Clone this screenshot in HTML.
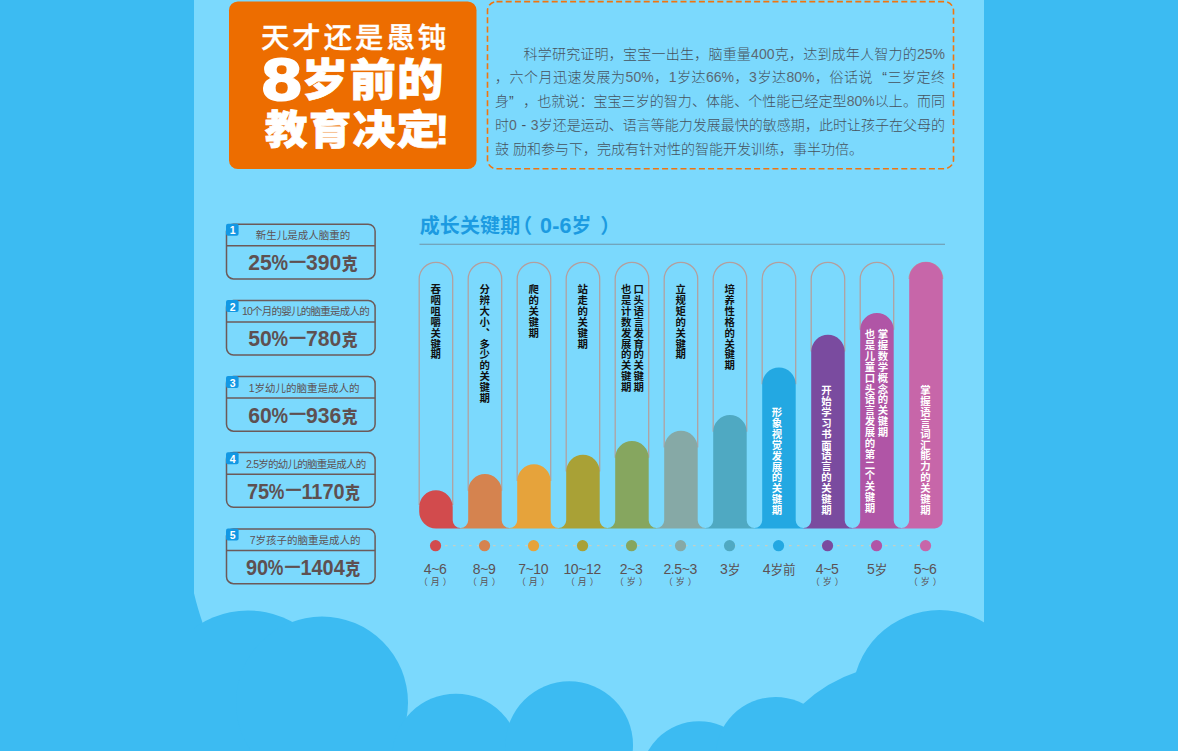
<!DOCTYPE html>
<html lang="zh-CN">
<head>
<meta charset="utf-8">
<title>天才还是愚钝 8岁前的教育决定</title>
<style>
html,body{margin:0;padding:0;}
body{width:1178px;height:751px;overflow:hidden;position:relative;background:#3cbbf2;font-family:"Liberation Sans","Noto Sans CJK SC",sans-serif;}
.bg{position:absolute;left:0;top:0;display:block;}
.abs{position:absolute;white-space:nowrap;margin:0;}
.t1{left:261px;top:16.7px;font-size:28.3px;font-weight:500;color:#fff;letter-spacing:3.05px;-webkit-text-stroke:0.35px #fff;line-height:42px;}
.n8{left:261.9px;top:45.3px;font-size:59px;font-weight:700;color:#fff;line-height:70px;transform:scaleX(1.2);transform-origin:0 50%;-webkit-text-stroke:2.2px #fff;}
.t2{left:301.5px;top:51.3px;font-size:44px;font-weight:900;color:#fff;line-height:60px;letter-spacing:1px;-webkit-text-stroke:0.8px #fff;transform:scaleX(1.055);transform-origin:0 50%;}
.t3{left:264.5px;top:99.7px;font-size:40px;font-weight:900;color:#fff;line-height:60px;letter-spacing:1.4px;-webkit-text-stroke:0.8px #fff;transform:scaleX(1.06);transform-origin:0 50%;}
.para{left:495px;width:450px;font-size:14px;font-weight:300;color:#46525e;line-height:24px;height:24px;text-align:justify;text-align-last:justify;}
.para i{font-style:normal;color:#5c6873;}
.para b{font-weight:inherit;display:inline-block;}
.para .ql{width:14px;text-align:right;text-align-last:right;}
.para .qr{width:14px;text-align:left;text-align-last:left;}
.para .hy{width:14px;text-align:center;text-align-last:center;}
.para.last{text-align-last:left;text-align:left;}
.c1{width:180px;text-align:center;font-size:10.5px;color:#5d5254;line-height:14px;}
.c2{left:228px;width:150px;text-align:center;font-size:22px;font-weight:700;color:#5e5051;line-height:26px;}
.c2 span.w{display:inline-block;transform:scaleX(0.96);}
.c2 .pc{display:inline-block;transform:scaleX(0.88);margin:0 -1.2px;}
.c2 .ke{font-size:16.5px;margin-left:0.5px;font-weight:900;}
.c2 .da{display:inline-block;font-size:17px;position:relative;top:-2.2px;transform:scaleX(1.3);margin:0 0 0 1.5px;-webkit-text-stroke:0.5px #5e5051;}
.bd{width:12.6px;text-align:center;color:#fff;font-weight:700;font-size:10.5px;line-height:12px;}
.ct{left:419.7px;top:211px;font-size:20px;font-weight:700;color:#1c9be1;line-height:30px;letter-spacing:0.12px;}
.v{writing-mode:vertical-rl;font-size:10.4px;font-weight:700;line-height:13px;letter-spacing:0.47px;color:#111;}
.v.w{color:#fff;}
.lb{width:60px;text-align:center;font-size:14px;color:#5d5254;line-height:16px;letter-spacing:-0.4px;}
.lb s{text-decoration:none;font-size:12.6px;letter-spacing:-0.2px;margin-left:0.5px;}
.ls{width:60px;text-align:center;font-size:9px;color:#5d5254;line-height:12px;letter-spacing:3px;text-indent:3px;}
</style>
</head>
<body>

<svg class="bg" width="1178" height="751" viewBox="0 0 1178 751">
<rect x="194" y="0" width="790" height="751" fill="#7bd9fd"/>
<g fill="#3cbbf2"><path d="M193,590 L194.2,594 Q197.2,607 202.8,623.5 L204,751 L193,751 Z"/><circle cx="248" cy="702.5" r="92"/><circle cx="322" cy="702.5" r="86"/><circle cx="456" cy="757.7" r="64"/><circle cx="569.3" cy="745" r="63.7"/><circle cx="699" cy="780" r="58.7"/><circle cx="775.5" cy="757" r="60"/><circle cx="939.6" cy="697.3" r="87.3"/><path d="M803,704 A 150 150 0 0 1 858,671.5 L 885,700 L885,751 L803,751 Z"/></g>
<rect x="984" y="0" width="194" height="751" fill="#3cbbf2"/>
<rect x="0" y="0" width="194" height="751" fill="#3cbbf2"/>
<rect x="229" y="1.5" width="247.5" height="167.5" rx="8.8" fill="#ed6d00"/>
<rect x="487.5" y="1.6" width="466" height="167.1" rx="9" fill="none" stroke="#f0750f" stroke-width="1.6" stroke-dasharray="6 3.2"/>
<rect x="226.5" y="224.2" width="148.6" height="54.7" rx="7" fill="none" stroke="#6c5a59" stroke-width="1.5"/>
<line x1="226.5" y1="245.79999999999998" x2="375.1" y2="245.79999999999998" stroke="#6c5a59" stroke-width="1.5"/>
<rect x="226" y="223.8" width="12.6" height="12" rx="2" fill="#1298e4"/>
<rect x="226.5" y="300.4" width="148.6" height="54.7" rx="7" fill="none" stroke="#6c5a59" stroke-width="1.5"/>
<line x1="226.5" y1="322.0" x2="375.1" y2="322.0" stroke="#6c5a59" stroke-width="1.5"/>
<rect x="226" y="300.0" width="12.6" height="12" rx="2" fill="#1298e4"/>
<rect x="226.5" y="376.5" width="148.6" height="54.7" rx="7" fill="none" stroke="#6c5a59" stroke-width="1.5"/>
<line x1="226.5" y1="398.1" x2="375.1" y2="398.1" stroke="#6c5a59" stroke-width="1.5"/>
<rect x="226" y="376.1" width="12.6" height="12" rx="2" fill="#1298e4"/>
<rect x="226.5" y="452.6" width="148.6" height="54.7" rx="7" fill="none" stroke="#6c5a59" stroke-width="1.5"/>
<line x1="226.5" y1="474.20000000000005" x2="375.1" y2="474.20000000000005" stroke="#6c5a59" stroke-width="1.5"/>
<rect x="226" y="452.2" width="12.6" height="12" rx="2" fill="#1298e4"/>
<rect x="226.5" y="529.0" width="148.6" height="54.7" rx="7" fill="none" stroke="#6c5a59" stroke-width="1.5"/>
<line x1="226.5" y1="550.6" x2="375.1" y2="550.6" stroke="#6c5a59" stroke-width="1.5"/>
<rect x="226" y="528.6" width="12.6" height="12" rx="2" fill="#1298e4"/>
<line x1="419.5" y1="244.2" x2="945" y2="244.2" stroke="#6f93a6" stroke-width="1.1"/>
<path d="M419.20,505.00 L419.20,279.05 A16.75,16.75 0 0 1 452.70,279.05 L452.70,505.00" fill="none" stroke="#b39f9e" stroke-width="1.25"/>
<path d="M468.20,490.75 L468.20,279.05 A16.75,16.75 0 0 1 501.70,279.05 L501.70,490.75" fill="none" stroke="#b39f9e" stroke-width="1.25"/>
<path d="M517.20,481.05 L517.20,279.05 A16.75,16.75 0 0 1 550.70,279.05 L550.70,481.05" fill="none" stroke="#b39f9e" stroke-width="1.25"/>
<path d="M566.20,471.55 L566.20,279.05 A16.75,16.75 0 0 1 599.70,279.05 L599.70,471.55" fill="none" stroke="#b39f9e" stroke-width="1.25"/>
<path d="M615.20,457.85 L615.20,279.05 A16.75,16.75 0 0 1 648.70,279.05 L648.70,457.85" fill="none" stroke="#b39f9e" stroke-width="1.25"/>
<path d="M664.20,447.55 L664.20,279.05 A16.75,16.75 0 0 1 697.70,279.05 L697.70,447.55" fill="none" stroke="#b39f9e" stroke-width="1.25"/>
<path d="M713.20,431.75 L713.20,279.05 A16.75,16.75 0 0 1 746.70,279.05 L746.70,431.75" fill="none" stroke="#b39f9e" stroke-width="1.25"/>
<path d="M762.20,384.35 L762.20,279.05 A16.75,16.75 0 0 1 795.70,279.05 L795.70,384.35" fill="none" stroke="#b39f9e" stroke-width="1.25"/>
<path d="M811.20,351.55 L811.20,279.05 A16.75,16.75 0 0 1 844.70,279.05 L844.70,351.55" fill="none" stroke="#b39f9e" stroke-width="1.25"/>
<path d="M860.20,329.75 L860.20,279.05 A16.75,16.75 0 0 1 893.70,279.05 L893.70,329.75" fill="none" stroke="#b39f9e" stroke-width="1.25"/>
<path d="M909.20,278.75 L909.20,279.05 A16.75,16.75 0 0 1 942.70,279.05 L942.70,278.75" fill="none" stroke="#b39f9e" stroke-width="1.25"/>
<path d="M419.20,507.05 A16.75,16.75 0 0 1 452.70,507.05 L452.70,520.15 A7.75,7.75 0 0 0 460.45,527.90 L460.45,528.4 L435.95,528.4 A16.75,16.75 0 0 1 419.20,511.65 Z" fill="#d24b4d"/>
<path d="M468.20,490.75 A16.75,16.75 0 0 1 501.70,490.75 L501.70,520.15 A7.75,7.75 0 0 0 509.45,527.90 L509.45,528.4 L460.45,528.4 L460.45,527.90 A7.75,7.75 0 0 0 468.20,520.15 Z" fill="#d5834f"/>
<path d="M517.20,481.05 A16.75,16.75 0 0 1 550.70,481.05 L550.70,520.15 A7.75,7.75 0 0 0 558.45,527.90 L558.45,528.4 L509.45,528.4 L509.45,527.90 A7.75,7.75 0 0 0 517.20,520.15 Z" fill="#e6a33b"/>
<path d="M566.20,471.55 A16.75,16.75 0 0 1 599.70,471.55 L599.70,520.15 A7.75,7.75 0 0 0 607.45,527.90 L607.45,528.4 L558.45,528.4 L558.45,527.90 A7.75,7.75 0 0 0 566.20,520.15 Z" fill="#a9a136"/>
<path d="M615.20,457.85 A16.75,16.75 0 0 1 648.70,457.85 L648.70,520.15 A7.75,7.75 0 0 0 656.45,527.90 L656.45,528.4 L607.45,528.4 L607.45,527.90 A7.75,7.75 0 0 0 615.20,520.15 Z" fill="#86a65f"/>
<path d="M664.20,447.55 A16.75,16.75 0 0 1 697.70,447.55 L697.70,520.15 A7.75,7.75 0 0 0 705.45,527.90 L705.45,528.4 L656.45,528.4 L656.45,527.90 A7.75,7.75 0 0 0 664.20,520.15 Z" fill="#86a9a6"/>
<path d="M713.20,431.75 A16.75,16.75 0 0 1 746.70,431.75 L746.70,520.15 A7.75,7.75 0 0 0 754.45,527.90 L754.45,528.4 L705.45,528.4 L705.45,527.90 A7.75,7.75 0 0 0 713.20,520.15 Z" fill="#4fa9c2"/>
<path d="M762.20,384.35 A16.75,16.75 0 0 1 795.70,384.35 L795.70,520.15 A7.75,7.75 0 0 0 803.45,527.90 L803.45,528.4 L754.45,528.4 L754.45,527.90 A7.75,7.75 0 0 0 762.20,520.15 Z" fill="#23a8e2"/>
<path d="M811.20,351.55 A16.75,16.75 0 0 1 844.70,351.55 L844.70,520.15 A7.75,7.75 0 0 0 852.45,527.90 L852.45,528.4 L803.45,528.4 L803.45,527.90 A7.75,7.75 0 0 0 811.20,520.15 Z" fill="#7a4b9f"/>
<path d="M860.20,329.75 A16.75,16.75 0 0 1 893.70,329.75 L893.70,520.15 A7.75,7.75 0 0 0 901.45,527.90 L901.45,528.4 L852.45,528.4 L852.45,527.90 A7.75,7.75 0 0 0 860.20,520.15 Z" fill="#b055a6"/>
<path d="M909.20,278.75 A16.75,16.75 0 0 1 942.70,278.75 L942.70,520.40 A8,8 0 0 1 934.70,528.4 L901.45,528.4 L901.45,527.90 A7.75,7.75 0 0 0 909.20,520.15 Z" fill="#c766a9"/>
<line x1="436" y1="545.7" x2="926" y2="545.7" stroke="#c4cfc4" stroke-width="1.3" stroke-dasharray="2.6 5.4" stroke-dashoffset="-1"/>
<circle cx="435.55" cy="545.7" r="5.6" fill="#d24b4d"/>
<circle cx="484.55" cy="545.7" r="5.6" fill="#d5834f"/>
<circle cx="533.55" cy="545.7" r="5.6" fill="#e6a33b"/>
<circle cx="582.55" cy="545.7" r="5.6" fill="#a9a136"/>
<circle cx="631.55" cy="545.7" r="5.6" fill="#86a65f"/>
<circle cx="680.55" cy="545.7" r="5.6" fill="#86a9a6"/>
<circle cx="729.55" cy="545.7" r="5.6" fill="#4fa9c2"/>
<circle cx="778.55" cy="545.7" r="5.6" fill="#23a8e2"/>
<circle cx="827.55" cy="545.7" r="5.6" fill="#7a4b9f"/>
<circle cx="876.55" cy="545.7" r="5.6" fill="#b055a6"/>
<circle cx="925.55" cy="545.7" r="5.6" fill="#c766a9"/>
</svg>
<div class="abs t1">天才还是愚钝</div>
<div class="abs n8">8</div>
<div class="abs t2">岁前的</div>
<div class="abs t3">教育决定<span style="margin-left:-5px">!</span></div>
<div class="abs para" style="top:41.50px">　　科学研究证明，宝宝一出生，脑重量<i>400</i>克，达到成年人智力的<i>25%</i></div>
<div class="abs para" style="top:65.35px">，六个月迅速发展为<i>50%</i>，<i>1</i>岁达<i>66%</i>，<i>3</i>岁达<i>80%</i>，俗话说<b class='ql'>“</b>三岁定终</div>
<div class="abs para" style="top:89.20px">身<b class='qr'>”</b>，也就说：宝宝三岁的智力、体能、个性能已经定型<i>80%</i>以上。而同</div>
<div class="abs para" style="top:113.05px">时<i>0</i><b class='hy'>-</b><i>3</i>岁还是运动、语言等能力发展最快的敏感期，此时让孩子在父母的</div>
<div class="abs para last" style="top:136.90px">鼓 励和参与下，完成有针对性的智能开发训练，事半功倍。</div>
<div class="abs bd" style="left:226.3px;top:224.4px">1</div>
<div class="abs c1" style="left:212.90px;top:228.2px;letter-spacing:0px">新生儿是成人脑重的</div>
<div class="abs c2" style="top:250.2px"><span class="w" style="transform:scaleX(0.96)">25<span class="pc">%</span><span class="da">－</span>390<span class="ke">克</span></span></div>
<div class="abs bd" style="left:226.3px;top:300.6px">2</div>
<div class="abs c1" style="left:215.52px;top:304.4px;letter-spacing:-0.75px">10个月的婴儿的脑重是成人的</div>
<div class="abs c2" style="top:326.4px"><span class="w" style="transform:scaleX(0.96)">50<span class="pc">%</span><span class="da">－</span>780<span class="ke">克</span></span></div>
<div class="abs bd" style="left:226.3px;top:376.7px">3</div>
<div class="abs c1" style="left:214.20px;top:380.5px;letter-spacing:0px">1岁幼儿的脑重是成人的</div>
<div class="abs c2" style="top:402.5px"><span class="w" style="transform:scaleX(0.96)">60<span class="pc">%</span><span class="da">－</span>936<span class="ke">克</span></span></div>
<div class="abs bd" style="left:226.3px;top:452.8px">4</div>
<div class="abs c1" style="left:215.73px;top:456.6px;letter-spacing:-0.75px">2.5岁的幼儿的脑重是成人的</div>
<div class="abs c2" style="top:478.6px"><span class="w" style="transform:scaleX(0.905)">75<span class="pc">%</span><span class="da">－</span>1170<span class="ke">克</span></span></div>
<div class="abs bd" style="left:226.3px;top:529.2px">5</div>
<div class="abs c1" style="left:215.10px;top:533.0px;letter-spacing:0px">7岁孩子的脑重是成人的</div>
<div class="abs c2" style="top:555.0px"><span class="w" style="transform:scaleX(0.905)">90<span class="pc">%</span><span class="da">－</span>1404<span class="ke">克</span></span></div>
<div class="abs ct">成长关键期<span style="margin-left:-8px">（</span> <span style="font-size:21.5px;margin-left:2px">0-6</span>岁<span style="margin-left:3px"> ）</span></div>
<div class="abs v" style="left:428.15px;top:284.30px;line-height:13px">吞咽咀嚼关键期</div>
<div class="abs v" style="left:477.15px;top:284.30px;line-height:13px">分辨大小、多少的关键期</div>
<div class="abs v" style="left:526.15px;top:284.30px;line-height:13px">爬的关键期</div>
<div class="abs v" style="left:575.15px;top:284.30px;line-height:13px">站走的关键期</div>
<div class="abs v" style="left:618.05px;top:284.30px;line-height:12.6px">口头语言发育的关键期<br>也是计数发展的关键期</div>
<div class="abs v" style="left:673.15px;top:284.30px;line-height:13px">立规矩的关键期</div>
<div class="abs v" style="left:722.15px;top:284.30px;line-height:13px">培养性格的关键期</div>
<div class="abs v w" style="left:769.45px;top:406.80px;line-height:13px">形象视觉发展的关键期</div>
<div class="abs v w" style="left:818.85px;top:385.10px;line-height:13px">开始学习书面语言的关键期</div>
<div class="abs v w" style="left:862.25px;top:329.00px;line-height:13.1px">掌握数学概念的关键期<br>也是儿童口头语言发展的第二个关键期</div>
<div class="abs v w" style="left:917.85px;top:385.10px;line-height:13px">掌握语言词汇能力的关键期</div>
<div class="abs lb" style="left:405.15px;top:561px">4~6</div>
<div class="abs ls" style="left:405.15px;top:576px">（月）</div>
<div class="abs lb" style="left:454.15px;top:561px">8~9</div>
<div class="abs ls" style="left:454.15px;top:576px">（月）</div>
<div class="abs lb" style="left:503.15px;top:561px">7~10</div>
<div class="abs ls" style="left:503.15px;top:576px">（月）</div>
<div class="abs lb" style="left:552.15px;top:561px">10~12</div>
<div class="abs ls" style="left:552.15px;top:576px">（月）</div>
<div class="abs lb" style="left:601.15px;top:561px">2~3</div>
<div class="abs ls" style="left:601.15px;top:576px">（岁）</div>
<div class="abs lb" style="left:650.15px;top:561px">2.5~3</div>
<div class="abs ls" style="left:650.15px;top:576px">（岁）</div>
<div class="abs lb" style="left:700.05px;top:561px">3<s>岁</s></div>
<div class="abs lb" style="left:749.05px;top:561px">4<s>岁前</s></div>
<div class="abs lb" style="left:797.15px;top:561px">4~5</div>
<div class="abs ls" style="left:797.15px;top:576px">（岁）</div>
<div class="abs lb" style="left:847.05px;top:561px">5<s>岁</s></div>
<div class="abs lb" style="left:895.15px;top:561px">5~6</div>
<div class="abs ls" style="left:895.15px;top:576px">（岁）</div>
</body>
</html>
